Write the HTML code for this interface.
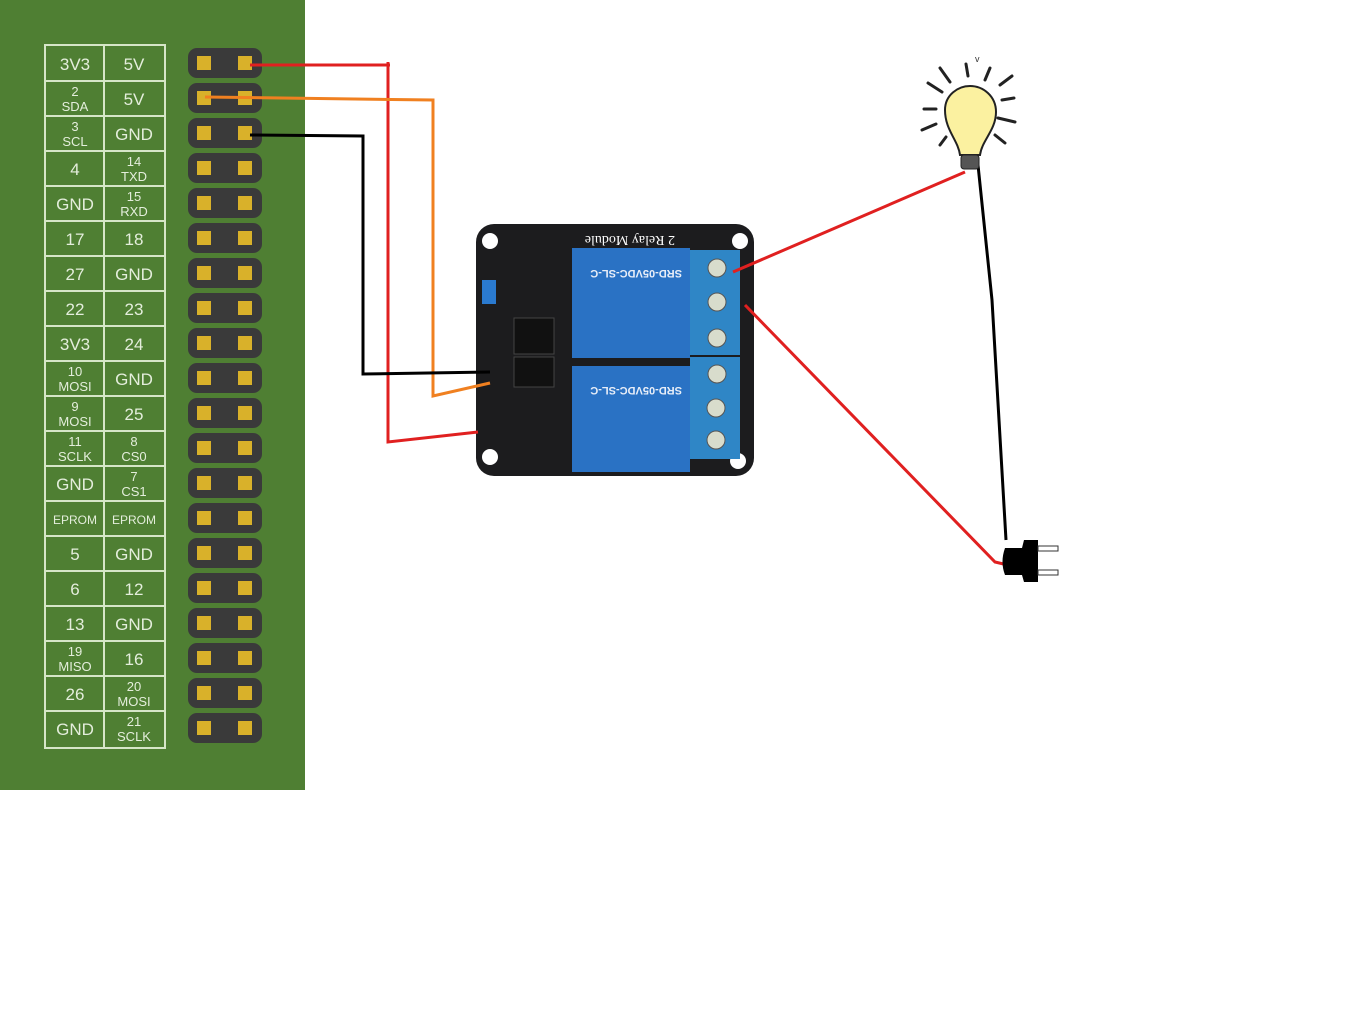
<!DOCTYPE html>
<html><head><style>body{margin:0;background:#fff}svg{display:block}</style></head><body>
<svg width="1360" height="1024" xmlns="http://www.w3.org/2000/svg" font-family="Liberation Sans, sans-serif">
<rect width="1360" height="1024" fill="#fff"/>
<rect x="0" y="0" width="305" height="790" fill="#4f7f33"/>
<g stroke="#d6e6c8" stroke-width="2" fill="none">
<rect x="45" y="45" width="120" height="703"/>
<line x1="104" y1="45" x2="104" y2="748"/>
</g>
<g id="rows" fill="#e4eedc" font-size="17" text-anchor="middle">
<script>/* none */</script>
</g>
<g stroke="#d6e6c8" stroke-width="2">
<line x1="45" y1="81" x2="165" y2="81"/><line x1="45" y1="116" x2="165" y2="116"/><line x1="45" y1="151" x2="165" y2="151"/><line x1="45" y1="186" x2="165" y2="186"/><line x1="45" y1="221" x2="165" y2="221"/><line x1="45" y1="256" x2="165" y2="256"/><line x1="45" y1="291" x2="165" y2="291"/><line x1="45" y1="326" x2="165" y2="326"/><line x1="45" y1="361" x2="165" y2="361"/><line x1="45" y1="396" x2="165" y2="396"/><line x1="45" y1="431" x2="165" y2="431"/><line x1="45" y1="466" x2="165" y2="466"/><line x1="45" y1="501" x2="165" y2="501"/><line x1="45" y1="536" x2="165" y2="536"/><line x1="45" y1="571" x2="165" y2="571"/><line x1="45" y1="606" x2="165" y2="606"/><line x1="45" y1="641" x2="165" y2="641"/><line x1="45" y1="676" x2="165" y2="676"/><line x1="45" y1="711" x2="165" y2="711"/>
</g>
<g fill="#e4eedc" text-anchor="middle" font-size="17">
<text x="75" y="70">3V3</text><text x="134" y="70">5V</text>
<text x="75" y="96" font-size="13">2</text><text x="75" y="111" font-size="13">SDA</text><text x="134" y="105">5V</text>
<text x="75" y="131" font-size="13">3</text><text x="75" y="146" font-size="13">SCL</text><text x="134" y="140">GND</text>
<text x="75" y="175">4</text><text x="134" y="166" font-size="13">14</text><text x="134" y="181" font-size="13">TXD</text>
<text x="75" y="210">GND</text><text x="134" y="201" font-size="13">15</text><text x="134" y="216" font-size="13">RXD</text>
<text x="75" y="245">17</text><text x="134" y="245">18</text>
<text x="75" y="280">27</text><text x="134" y="280">GND</text>
<text x="75" y="315">22</text><text x="134" y="315">23</text>
<text x="75" y="350">3V3</text><text x="134" y="350">24</text>
<text x="75" y="376" font-size="13">10</text><text x="75" y="391" font-size="13">MOSI</text><text x="134" y="385">GND</text>
<text x="75" y="411" font-size="13">9</text><text x="75" y="426" font-size="13">MOSI</text><text x="134" y="420">25</text>
<text x="75" y="446" font-size="13">11</text><text x="75" y="461" font-size="13">SCLK</text><text x="134" y="446" font-size="13">8</text><text x="134" y="461" font-size="13">CS0</text>
<text x="75" y="490">GND</text><text x="134" y="481" font-size="13">7</text><text x="134" y="496" font-size="13">CS1</text>
<text x="75" y="524" font-size="12">EPROM</text><text x="134" y="524" font-size="12">EPROM</text>
<text x="75" y="560">5</text><text x="134" y="560">GND</text>
<text x="75" y="595">6</text><text x="134" y="595">12</text>
<text x="75" y="630">13</text><text x="134" y="630">GND</text>
<text x="75" y="656" font-size="13">19</text><text x="75" y="671" font-size="13">MISO</text><text x="134" y="665">16</text>
<text x="75" y="700">26</text><text x="134" y="691" font-size="13">20</text><text x="134" y="706" font-size="13">MOSI</text>
<text x="75" y="735">GND</text><text x="134" y="726" font-size="13">21</text><text x="134" y="741" font-size="13">SCLK</text>
</g>
<g>
<rect x="188" y="48" width="74" height="30" rx="9" fill="#3a3a3a"/><rect x="188" y="83" width="74" height="30" rx="9" fill="#3a3a3a"/><rect x="188" y="118" width="74" height="30" rx="9" fill="#3a3a3a"/><rect x="188" y="153" width="74" height="30" rx="9" fill="#3a3a3a"/><rect x="188" y="188" width="74" height="30" rx="9" fill="#3a3a3a"/><rect x="188" y="223" width="74" height="30" rx="9" fill="#3a3a3a"/><rect x="188" y="258" width="74" height="30" rx="9" fill="#3a3a3a"/><rect x="188" y="293" width="74" height="30" rx="9" fill="#3a3a3a"/><rect x="188" y="328" width="74" height="30" rx="9" fill="#3a3a3a"/><rect x="188" y="363" width="74" height="30" rx="9" fill="#3a3a3a"/><rect x="188" y="398" width="74" height="30" rx="9" fill="#3a3a3a"/><rect x="188" y="433" width="74" height="30" rx="9" fill="#3a3a3a"/><rect x="188" y="468" width="74" height="30" rx="9" fill="#3a3a3a"/><rect x="188" y="503" width="74" height="30" rx="9" fill="#3a3a3a"/><rect x="188" y="538" width="74" height="30" rx="9" fill="#3a3a3a"/><rect x="188" y="573" width="74" height="30" rx="9" fill="#3a3a3a"/><rect x="188" y="608" width="74" height="30" rx="9" fill="#3a3a3a"/><rect x="188" y="643" width="74" height="30" rx="9" fill="#3a3a3a"/><rect x="188" y="678" width="74" height="30" rx="9" fill="#3a3a3a"/><rect x="188" y="713" width="74" height="30" rx="9" fill="#3a3a3a"/>
</g>
<g fill="#d9b12a">
<rect x="197" y="56" width="14" height="14"/><rect x="238" y="56" width="14" height="14"/><rect x="197" y="91" width="14" height="14"/><rect x="238" y="91" width="14" height="14"/><rect x="197" y="126" width="14" height="14"/><rect x="238" y="126" width="14" height="14"/><rect x="197" y="161" width="14" height="14"/><rect x="238" y="161" width="14" height="14"/><rect x="197" y="196" width="14" height="14"/><rect x="238" y="196" width="14" height="14"/><rect x="197" y="231" width="14" height="14"/><rect x="238" y="231" width="14" height="14"/><rect x="197" y="266" width="14" height="14"/><rect x="238" y="266" width="14" height="14"/><rect x="197" y="301" width="14" height="14"/><rect x="238" y="301" width="14" height="14"/><rect x="197" y="336" width="14" height="14"/><rect x="238" y="336" width="14" height="14"/><rect x="197" y="371" width="14" height="14"/><rect x="238" y="371" width="14" height="14"/><rect x="197" y="406" width="14" height="14"/><rect x="238" y="406" width="14" height="14"/><rect x="197" y="441" width="14" height="14"/><rect x="238" y="441" width="14" height="14"/><rect x="197" y="476" width="14" height="14"/><rect x="238" y="476" width="14" height="14"/><rect x="197" y="511" width="14" height="14"/><rect x="238" y="511" width="14" height="14"/><rect x="197" y="546" width="14" height="14"/><rect x="238" y="546" width="14" height="14"/><rect x="197" y="581" width="14" height="14"/><rect x="238" y="581" width="14" height="14"/><rect x="197" y="616" width="14" height="14"/><rect x="238" y="616" width="14" height="14"/><rect x="197" y="651" width="14" height="14"/><rect x="238" y="651" width="14" height="14"/><rect x="197" y="686" width="14" height="14"/><rect x="238" y="686" width="14" height="14"/><rect x="197" y="721" width="14" height="14"/><rect x="238" y="721" width="14" height="14"/>
</g>
<!-- relay module -->
<rect x="476" y="224" width="278" height="252" rx="18" fill="#1c1c1e"/>
<circle cx="490" cy="241" r="8" fill="#fff"/><circle cx="740" cy="241" r="8" fill="#fff"/><circle cx="490" cy="457" r="8" fill="#fff"/><circle cx="738" cy="461" r="8" fill="#fff"/>
<rect x="572" y="248" width="118" height="110" fill="#2a72c4"/>
<rect x="572" y="366" width="118" height="106" fill="#2a72c4"/>
<rect x="690" y="250" width="50" height="105" fill="#2f86c6"/>
<rect x="690" y="357" width="50" height="102" fill="#2f86c6"/>
<g fill="#d8dccc" stroke="#555" stroke-width="1"><circle cx="717" cy="268" r="9"/><circle cx="717" cy="302" r="9"/><circle cx="717" cy="338" r="9"/><circle cx="717" cy="374" r="9"/><circle cx="716" cy="408" r="9"/><circle cx="716" cy="440" r="9"/></g>
<rect x="514" y="318" width="40" height="36" fill="#111" stroke="#444"/><rect x="514" y="357" width="40" height="30" fill="#111" stroke="#444"/>
<rect x="482" y="280" width="14" height="24" fill="#2a7ad0"/>
<g fill="#fff" font-family="Liberation Serif, serif" transform="rotate(180 640 240)"><text x="605" y="244" font-size="14">2 Relay Module</text></g>
<g fill="#e8eef8" font-size="11" font-weight="bold" transform="rotate(180 630 265)"><text x="578" y="260">SRD-05VDC-SL-C</text></g>
<g fill="#e8eef8" font-size="11" font-weight="bold" transform="rotate(180 630 382)"><text x="578" y="377">SRD-05VDC-SL-C</text></g>
<!-- wires -->
<g fill="none" stroke-width="3">
<polyline points="250,65 390,65" stroke="#e02020"/>
<polyline points="388,62 388,442 478,432" stroke="#e02020"/>
<polyline points="205,97 433,100 433,396 490,383" stroke="#f08020"/>
<polyline points="250,135 363,136 363,374 490,372" stroke="#000"/>
<polyline points="733,272 965,172" stroke="#e02020"/>
<polyline points="745,305 995,562 1012,566" stroke="#e02020"/>
<polyline points="978,165 992,300 1006,540" stroke="#000"/>
</g>
<!-- bulb -->
<g stroke="#222" stroke-width="3" stroke-linecap="round" fill="none">
<line x1="940" y1="68" x2="950" y2="82"/><line x1="966" y1="64" x2="968" y2="76"/><line x1="990" y1="68" x2="985" y2="80"/><line x1="1012" y1="76" x2="1000" y2="85"/><line x1="1002" y1="100" x2="1014" y2="98"/><line x1="998" y1="118" x2="1015" y2="122"/><line x1="995" y1="135" x2="1005" y2="143"/><line x1="928" y1="83" x2="942" y2="92"/><line x1="924" y1="109" x2="936" y2="109"/><line x1="922" y1="130" x2="936" y2="124"/><line x1="940" y1="145" x2="946" y2="137"/>
</g>
<path d="M960 155 C958 140 945 130 945 110 C945 95 958 86 970 86 C983 86 996 96 996 112 C996 130 982 140 980 155 Z" fill="#fbf1a0" stroke="#222" stroke-width="2"/>
<rect x="961" y="155" width="18" height="14" rx="3" fill="#555" stroke="#222"/>
<text x="975" y="62" font-size="9" fill="#333">v</text>
<!-- plug -->
<path d="M1005 548 L1022 548 L1024 540 L1038 540 L1038 582 L1024 582 L1022 575 L1005 575 Q1000 562 1005 548 Z" fill="#000"/>
<rect x="1038" y="546" width="20" height="5" fill="#fff" stroke="#333"/><rect x="1038" y="570" width="20" height="5" fill="#fff" stroke="#333"/>
</svg>
</body></html>
